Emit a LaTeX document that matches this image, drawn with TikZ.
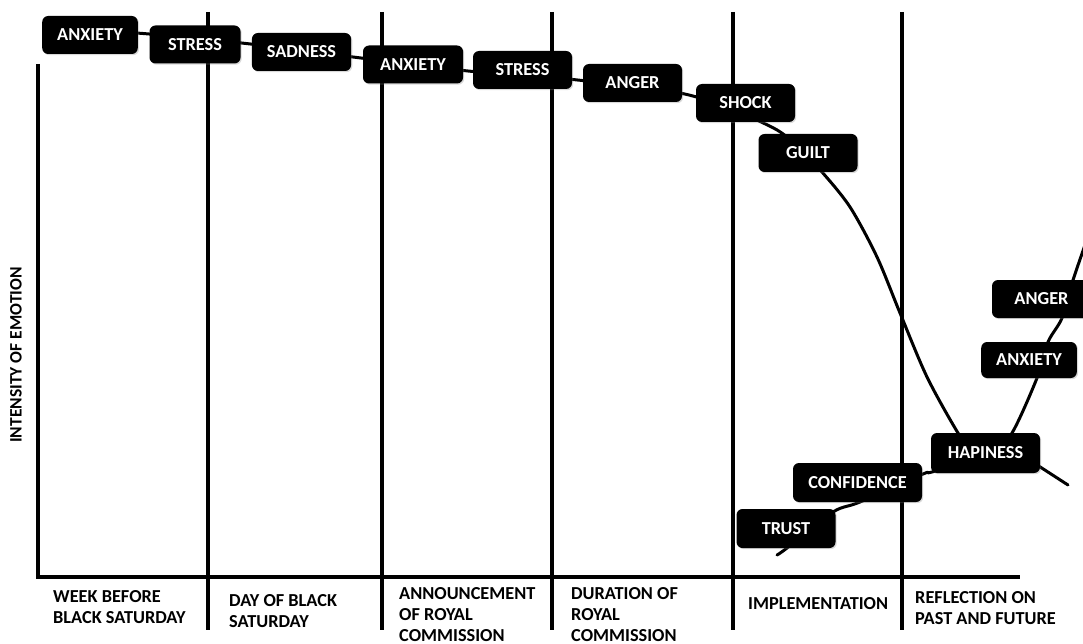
\documentclass[tikz,border=0pt]{standalone}
\usepackage{fontspec}
\setmainfont{Carlito}
\usetikzlibrary{backgrounds,shadows}
\begin{document}
\begin{tikzpicture}[x=1pt,y=-1pt,
  rule/.style={line width=4.5pt, line cap=rect},
  emo/.style={fill=black, text=white, rounded corners=6pt,
    minimum width=99pt, minimum height=38pt, inner xsep=15pt,
    font=\bfseries\fontsize{18.3}{21}\selectfont,
    drop shadow={opacity=0.3, shadow xshift=1.2pt, shadow yshift=-1.2pt}},
  curve/.style={line width=3pt, line join=round, line cap=round},
  phase/.style={anchor=north west, inner sep=0pt, align=left,
    font=\bfseries\fontsize{18.3}{21}\selectfont}]
\useasboundingbox (0,0) rectangle (1083,644);

% axes
\draw[rule, line cap=butt, line join=miter] (38,64) -- (38,577) -- (1020,577);
% phase dividers
\foreach \x in {208,382,552,733,902}
  \draw[rule, line cap=butt] (\x,12) -- (\x,630);

% emotion boxes
\node[emo, minimum width=94pt] (anx1) at (90,35) {ANXIETY};
\node[emo, minimum width=91pt] (str1) at (195,44.5) {STRESS};
\node[emo] (sad) at (301.5,52) {SADNESS};
\node[emo, minimum width=100pt] (anx2) at (413,64.5) {ANXIETY};
\node[emo] (str2) at (522.5,70) {STRESS};
\node[emo] (ang1) at (632.5,83) {ANGER};
\node[emo] (sho) at (745.5,103) {SHOCK};
\node[emo] (gui) at (808,153) {GUILT};
\node[emo] (ang2) at (1041.5,299) {ANGER};
\node[emo, minimum width=94pt, minimum height=36pt] (anx3) at (1029,360) {ANXIETY};
\node[emo, minimum width=109pt, minimum height=40pt] (hap) at (985.5,453) {HAPINESS};
\node[emo, minimum width=129pt, minimum height=39pt] (con) at (857.5,482.5) {CONFIDENCE};
\node[emo, minimum height=39pt] (tru) at (786,528.5) {TRUST};

% emotion curves
\coordinate (tailA) at (1068,485);
\coordinate (startB) at (777,555);
\coordinate (endB) at (1092,225);
\begin{pgfonlayer}{background}
  \draw[curve] plot[smooth, tension=0.5] coordinates {
    (100,32) (143,33.5) (246,43.5) (357,57.5) (468,71) (577.5,80)
    (689,95) (773.5,128) (805,155) (822,172) (850,207) (877,257)
    (900,313) (927,377) (958,433) (975,455)};
  \draw[curve] (hap.center) ++(14.5,-12) -- (tailA);
  \draw[curve] plot[smooth, tension=0.5] coordinates {
    (startB) (787,548) (833,512) (860,502) (923,474) (932,472) (990,455)
    (1012,433) (1037,378) (1048,342) (1062,318) (1073,280) (endB)};
\end{pgfonlayer}

% axis label
\node[rotate=90, inner sep=0pt, font=\bfseries\fontsize{17.5}{20}\selectfont] (ylab) at (16,355) {INTENSITY OF EMOTION};

% phase labels
\node[phase] (p1) at (53,590) {WEEK BEFORE\\BLACK SATURDAY};
\node[phase] (p2) at (229,594) {DAY OF BLACK\\SATURDAY};
\node[phase] (p3) at (399,587) {ANNOUNCEMENT\\OF ROYAL\\COMMISSION};
\node[phase] (p4) at (571,587) {DURATION OF\\ROYAL\\COMMISSION};
\node[phase] (p5) at (748,597) {IMPLEMENTATION};
\node[phase] (p6) at (915,591) {REFLECTION ON\\PAST AND FUTURE};
\end{tikzpicture}
\end{document}
